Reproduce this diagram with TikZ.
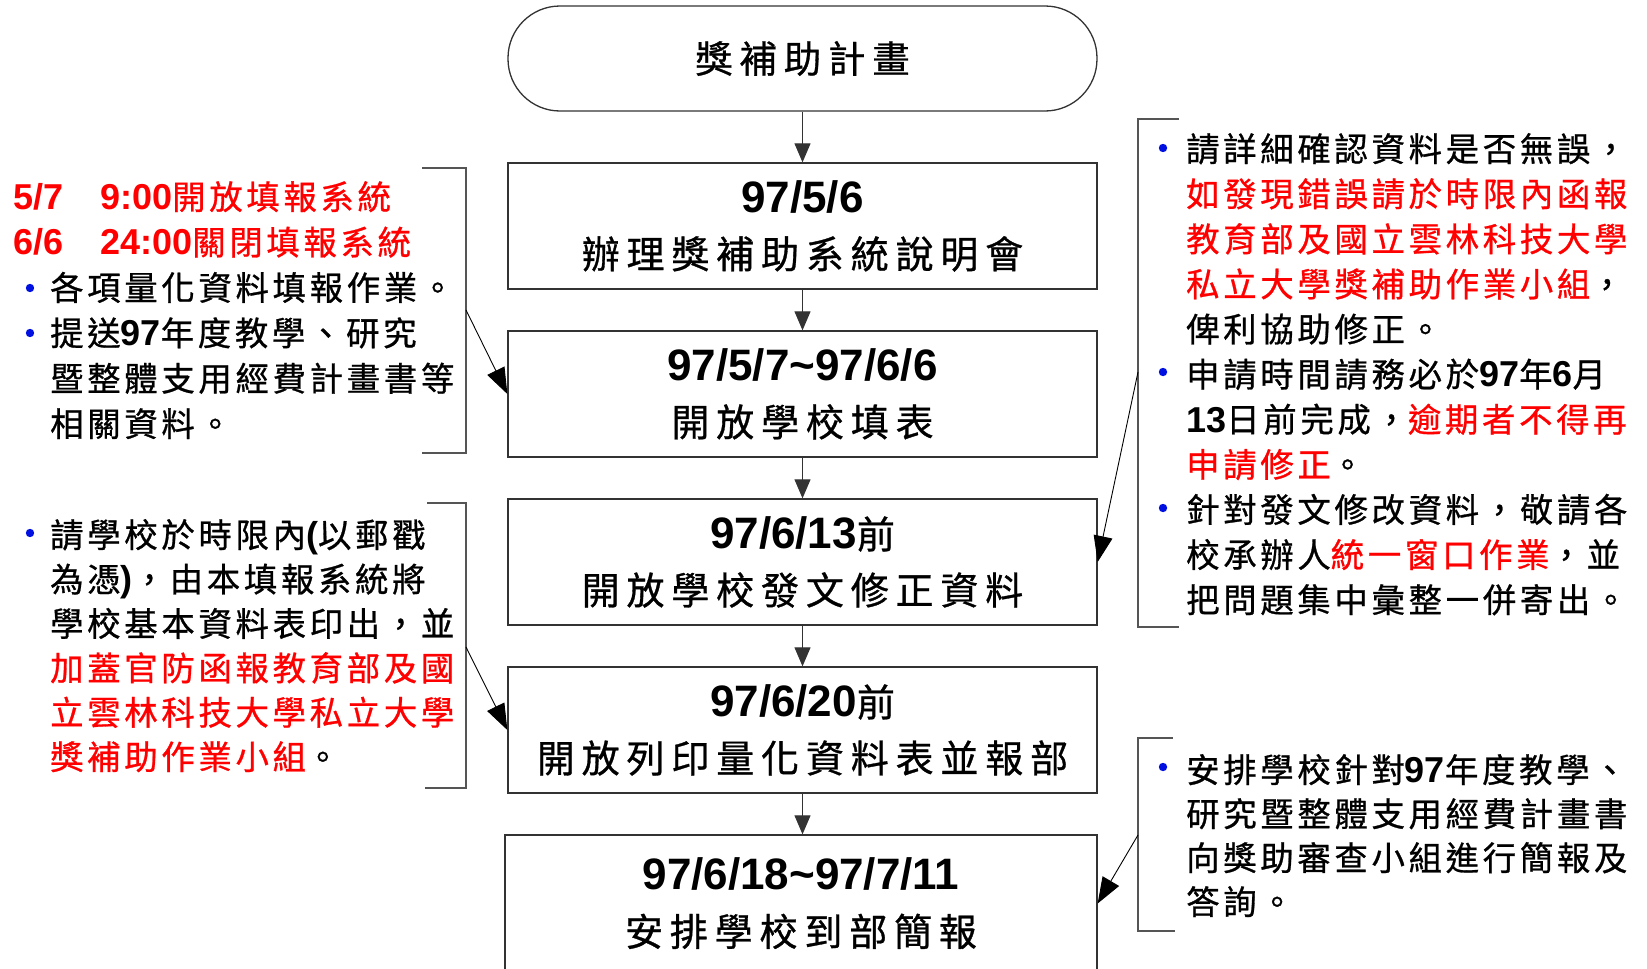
\documentclass[tikz,border=0pt]{standalone}
\usepackage{fontspec}
\setmainfont{Liberation Sans}
\newfontfamily\latin{Liberation Sans}
\newfontfamily\cjkS[LetterSpace=11,FakeBold=0.8]{Noto Sans CJK TC}
\newfontfamily\cjkL[LetterSpace=18,FakeBold=0.8]{Noto Sans CJK TC}
\usetikzlibrary{arrows.meta}
\definecolor{rd}{HTML}{FF0000}
\definecolor{bl}{HTML}{0010E0}
\definecolor{edgec}{HTML}{333333}
\definecolor{brk}{HTML}{555555}
\newcommand\sd[1]{{\latin\bfseries\fontsize{36}{45}\selectfont #1}}
\newcommand\cd[1]{{\latin\bfseries\fontsize{44}{56}\selectfont #1}}
\tikzset{
  box/.style={draw=edgec, line width=1.3pt, minimum width=589pt, minimum height=126pt,
    align=center, inner sep=0pt, font=\cjkL\fontsize{38}{56}\selectfont},
  term/.style={draw=edgec, line width=1.3pt, minimum width=589pt, minimum height=105pt,
    rounded corners=52pt, inner sep=0pt, font=\cjkL\fontsize{37.5}{56}\selectfont},
  side/.style={anchor=base west, inner sep=0pt, font=\cjkS\fontsize{33.4}{45}\selectfont},
  arr/.style={-{Triangle[length=19pt,width=16pt]}, line width=1pt, draw=edgec},
  sarr/.style={-{Triangle[length=26pt,width=19pt]}, line width=0.9pt, draw=black},
  brack/.style={draw=brk, line width=1.3pt},
  bul/.style={fill=bl}
}
\begin{document}
\begin{tikzpicture}[x=1pt,y=-1pt]
\useasboundingbox (0,0) rectangle (1647,969);
\clip (0,0) rectangle (1647,969);

% central flow
\node[term] (t) at (802.5,58.5) {獎補助計畫};
\node[box] (b1) at (802.5,226) {\cd{97/5/6}\\辦理獎補助系統說明會};
\node[box] (b2) at (802.5,394) {\cd{97/5/7\char`~97/6/6}\\開放學校填表};
\node[box] (b3) at (802.5,562) {\cd{97/6/13}前\\開放學校發文修正資料};
\node[box] (b4) at (802.5,730) {\cd{97/6/20}前\\開放列印量化資料表並報部};
\node[box, minimum width=592pt, minimum height=137pt] (b5) at (801,903.5) {\cd{97/6/18\char`~97/7/11}\\安排學校到部簡報};

\draw[arr] (t) -- (b1);
\draw[arr] (b1) -- (b2);
\draw[arr] (b2) -- (b3);
\draw[arr] (b3) -- (b4);
\draw[arr] (b4.south) -- (b4.south |- b5.north);

% brackets
\draw[brack] (422,168) -- (466,168) -- (466,453) -- (422,453);
\draw[brack] (427,503) -- (466,503) -- (466,788) -- (425,788);
\draw[brack] (1179,119) -- (1138,119) -- (1138,627) -- (1179,627);
\draw[brack] (1173,738) -- (1138,738) -- (1138,931) -- (1175,931);

\coordinate (a1) at (466,310);
\coordinate (a2) at (466,647);
\coordinate (a3) at (1138,372);
\coordinate (a4) at (1138,835);
\draw[sarr] (a1) -- (b2.west);
\draw[sarr] (a2) -- (b4.west);
\draw[sarr] (a3) -- (b3.east);
\draw[sarr] (a4) -- (b5.east);

% bullets
\fill[bul] (30,288) circle (4.2);
\fill[bul] (30,333) circle (4.2);
\fill[bul] (30,533) circle (4.2);
\fill[bul] (1163,148) circle (4.2);
\fill[bul] (1163,372) circle (4.2);
\fill[bul] (1163,508) circle (4.2);
\fill[bul] (1163,767) circle (4.2);

% left block 1
\node[side,text=rd] (l1a) at (13,209.4) {\sd{5/7}};
\node[side,text=rd] (l1b) at (100,209.4) {\sd{9:00}開放填報系統};
\node[side,text=rd] (l1c) at (13,254.8) {\sd{6/6}};
\node[side,text=rd] (l1d) at (100,254.8) {\sd{24:00}關閉填報系統};
\node[side] (l1e) at (50,300.2) {各項量化資料填報作業。};
\node[side] (l1f) at (50,345.6) {提送\sd{97}年度教學、研究};
\node[side] (l1g) at (50,391) {暨整體支用經費計畫書等};
\node[side] (l1h) at (50,436.4) {相關資料。};

% left block 2
\node[side] (l2a) at (50,547.4) {請學校於時限內\sd{(}以郵戳};
\node[side] (l2b) at (50,591.8) {為憑\sd{)}，由本填報系統將};
\node[side] (l2c) at (50,636.2) {學校基本資料表印出，並};
\node[side,text=rd] (l2d) at (50,680.6) {加蓋官防函報教育部及國};
\node[side,text=rd] (l2e) at (50,725) {立雲林科技大學私立大學};
\node[side] (l2f) at (50,769.4) {\textcolor{rd}{獎補助作業小組}。};

% right block 1
\node[side] (r1a) at (1186,161.4) {請詳細確認資料是否無誤，};
\node[side,text=rd] (r1b) at (1186,206.5) {如發現錯誤請於時限內函報};
\node[side,text=rd] (r1c) at (1186,251.6) {教育部及國立雲林科技大學};
\node[side] (r1d) at (1186,296.7) {\textcolor{rd}{私立大學獎補助作業小組}，};
\node[side] (r1e) at (1186,341.8) {俾利協助修正。};
\node[side] (r1f) at (1186,386.9) {申請時間請務必於\sd{97}年\sd{6}月};
\node[side] (r1g) at (1186,432) {\sd{13}日前完成，\textcolor{rd}{逾期者不得再}};
\node[side] (r1h) at (1186,477.1) {\textcolor{rd}{申請修正}。};
\node[side] (r1i) at (1186,522.2) {針對發文修改資料，敬請各};
\node[side] (r1j) at (1186,567.3) {校承辦人\textcolor{rd}{統一窗口作業}，並};
\node[side] (r1k) at (1186,612.4) {把問題集中彙整一併寄出。};

% right block 2
\node[side] (r2a) at (1186,782.4) {安排學校針對\sd{97}年度教學、};
\node[side] (r2b) at (1186,826.4) {研究暨整體支用經費計畫書};
\node[side] (r2c) at (1186,870.4) {向獎助審查小組進行簡報及};
\node[side] (r2d) at (1186,914.4) {答詢。};
\end{tikzpicture}
\end{document}
